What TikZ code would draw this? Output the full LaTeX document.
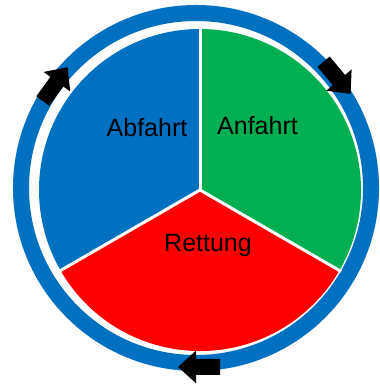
\documentclass[tikz,border=0pt]{standalone}
\usepackage{fontspec}
\setmainfont{Liberation Sans}
\definecolor{ringblue}{HTML}{0070C0}
\definecolor{pieblue}{HTML}{0070C0}
\definecolor{piegreen}{HTML}{00B050}
\definecolor{piered}{HTML}{FF0000}
\begin{document}
\begin{tikzpicture}[x=1pt,y=1pt,
  label/.style={font=\fontsize{25}{30}\selectfont, text=black, inner sep=0pt, anchor=base},
  sep/.style={white, line width=3pt},
  blockarrow/.pic={\fill[black] (-21,-8) -- (3,-8) -- (3,-16.5) -- (21,0) -- (3,16.5) -- (3,8) -- (-21,8) -- cycle;}]
\useasboundingbox (0,0) rectangle (379,387);
\fill[white] (0,0) rectangle (379,387);
\coordinate (rc) at (196,199);
\coordinate (pc) at (200,197);
% ring
\draw[ringblue, line width=16pt] (rc) circle[radius=175];
% pie sectors
\fill[pieblue] (pc) -- ++(90:161) arc[start angle=90, end angle=210, radius=161] -- cycle;
\fill[piegreen] (pc) -- ++(-30:161) arc[start angle=-30, end angle=90, radius=161] -- cycle;
\fill[piered] (pc) -- ++(210:161) arc[start angle=210, end angle=330, radius=161] -- cycle;
% separators
\draw[sep] (pc) -- ++(90:163);
\draw[sep] (pc) -- ++(210:163);
\draw[sep] (pc) -- ++(-30:163);
% labels
\node[label] (abf) at (147,250) {Abfahrt};
\node[label] (anf) at (257.5,252.7) {Anfahrt};
\node[label] (ret) at (208,135.3) {Rettung};
% arrows
\path (rc) ++(143.6:175) pic[rotate=53.6] {blockarrow};
\path (rc) ++(38:179) pic[rotate=-50] {blockarrow};
\path (rc) ++(-89:179) pic[rotate=180] {blockarrow};
\end{tikzpicture}
\end{document}
